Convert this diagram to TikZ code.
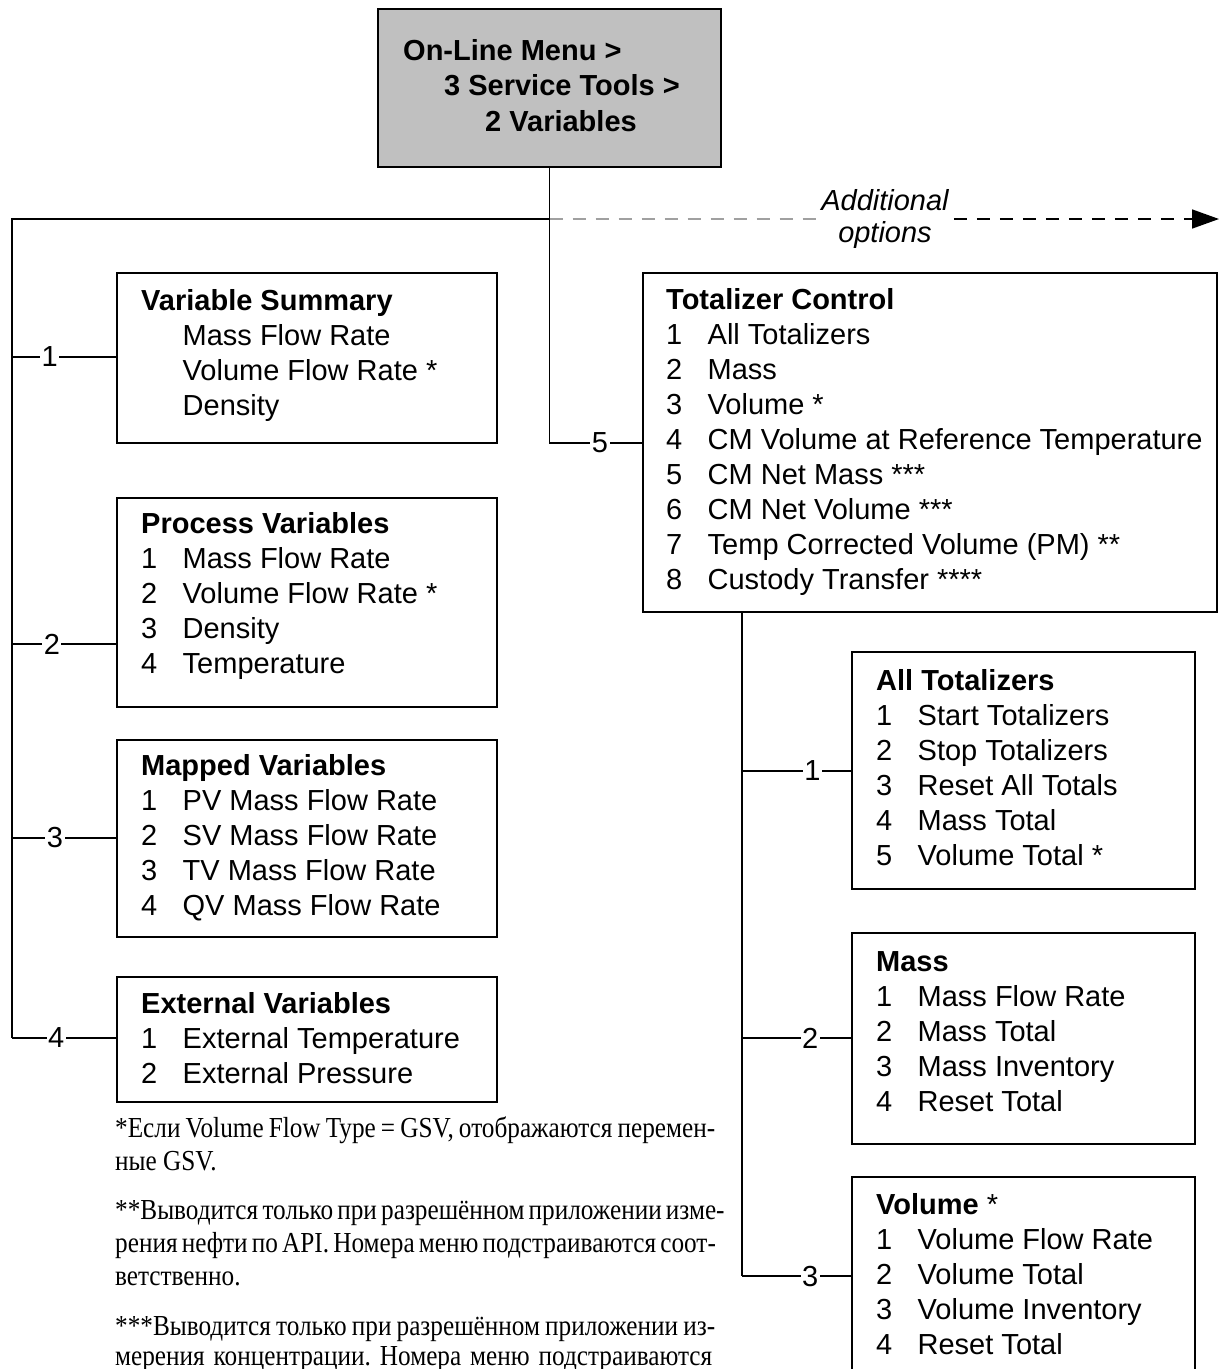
\documentclass[tikz,border=0pt]{standalone}
\usepackage{fontspec}
\setmainfont{Liberation Sans}
\newfontfamily\serifft[FakeStretch=0.87]{Liberation Serif}
\usetikzlibrary{arrows.meta}
\definecolor{boxgray}{RGB}{192,192,192}
\definecolor{dashgray}{RGB}{160,160,160}
\newcommand\mitem[2]{\makebox[41.5pt][l]{#1}#2}
\newcommand\fnline[1]{\hbox to 600pt{#1}}
\frenchspacing
\begin{document}
\begin{tikzpicture}[x=1pt,y=-1pt,
  box/.style={draw, line width=1.6pt, anchor=north west, inner sep=0pt, outer sep=0pt},
  txt/.style={anchor=base west, inner sep=0pt, font=\fontsize{29}{35}\selectfont},
  lbl/.style={fill=white, inner sep=1.5pt, font=\fontsize{29}{35}\selectfont},
  wire/.style={line width=1.6pt},
  fn/.style={anchor=base west, inner sep=0pt, font=\serifft\fontsize{29}{33}\selectfont}
]
\useasboundingbox (0,0) rectangle (1219,1369);
\clip (0,0) rectangle (1219,1369);

% top box
\node[box, fill=boxgray, minimum width=343pt, minimum height=158pt] (top) at (378,9) {};
\node[txt, font=\bfseries\fontsize{29}{35.5}\selectfont] (toptxt) at (403,60)
  {\begin{tabular}[t]{@{}l@{}}On-Line Menu >\\\hspace{41pt}3 Service Tools >\\\hspace{82pt}2 Variables\end{tabular}};

% left boxes
\node[box, minimum width=380pt, minimum height=170pt] (b1) at (117,273) {};
\node[txt] (b1t) at (141,310) {\begin{tabular}[t]{@{}l@{}}\textbf{Variable Summary}\\
 \mitem{}{Mass Flow Rate}\\ \mitem{}{Volume Flow Rate *}\\ \mitem{}{Density}\end{tabular}};

\node[box, minimum width=380pt, minimum height=209pt] (b2) at (117,498) {};
\node[txt] (b2t) at (141,533) {\begin{tabular}[t]{@{}l@{}}\textbf{Process Variables}\\
 \mitem{1}{Mass Flow Rate}\\ \mitem{2}{Volume Flow Rate *}\\ \mitem{3}{Density}\\ \mitem{4}{Temperature}\end{tabular}};

\node[box, minimum width=380pt, minimum height=197pt] (b3) at (117,740) {};
\node[txt] (b3t) at (141,775) {\begin{tabular}[t]{@{}l@{}}\textbf{Mapped Variables}\\
 \mitem{1}{PV Mass Flow Rate}\\ \mitem{2}{SV Mass Flow Rate}\\ \mitem{3}{TV Mass Flow Rate}\\ \mitem{4}{QV Mass Flow Rate}\end{tabular}};

\node[box, minimum width=380pt, minimum height=125pt] (b4) at (117,977) {};
\node[txt] (b4t) at (141,1013) {\begin{tabular}[t]{@{}l@{}}\textbf{External Variables}\\
 \mitem{1}{External Temperature}\\ \mitem{2}{External Pressure}\end{tabular}};

% totalizer control
\node[box, minimum width=574pt, minimum height=339pt] (tc) at (643,273) {};
\node[txt] (tct) at (666,309) {\begin{tabular}[t]{@{}l@{}}\textbf{Totalizer Control}\\
 \mitem{1}{All Totalizers}\\ \mitem{2}{Mass}\\ \mitem{3}{Volume *}\\
 \mitem{4}{CM Volume at Reference Temperature}\\ \mitem{5}{CM Net Mass ***}\\
 \mitem{6}{CM Net Volume ***}\\ \mitem{7}{Temp Corrected Volume (PM) **}\\
 \mitem{8}{Custody Transfer ****}\end{tabular}};

% right sub boxes
\node[box, minimum width=343pt, minimum height=237pt] (at) at (852,652) {};
\node[txt] (att) at (876,690) {\begin{tabular}[t]{@{}l@{}}\textbf{All Totalizers}\\
 \mitem{1}{Start Totalizers}\\ \mitem{2}{Stop Totalizers}\\ \mitem{3}{Reset All Totals}\\
 \mitem{4}{Mass Total}\\ \mitem{5}{Volume Total *}\end{tabular}};

\node[box, minimum width=343pt, minimum height=211pt] (ms) at (852,933) {};
\node[txt] (mst) at (876,971) {\begin{tabular}[t]{@{}l@{}}\textbf{Mass}\\
 \mitem{1}{Mass Flow Rate}\\ \mitem{2}{Mass Total}\\ \mitem{3}{Mass Inventory}\\ \mitem{4}{Reset Total}\end{tabular}};

\node[box, minimum width=343pt, minimum height=240pt] (vol) at (852,1177) {};
\node[txt] (volt) at (876,1214) {\begin{tabular}[t]{@{}l@{}}\textbf{Volume} *\\
 \mitem{1}{Volume Flow Rate}\\ \mitem{2}{Volume Total}\\ \mitem{3}{Volume Inventory}\\ \mitem{4}{Reset Total}\end{tabular}};

% additional options
\node[anchor=base, inner sep=5pt, font=\itshape\fontsize{29}{32}\selectfont] (add) at (885,210)
  {\begin{tabular}[t]{@{}c@{}}Additional\\options\end{tabular}};

% coordinates
\coordinate (j0) at (549.5,219);
\coordinate (jL) at (12,219);
\coordinate (c5) at (549.5,443);
\coordinate (l1) at (12,357);
\coordinate (l2) at (12,644);
\coordinate (l3) at (12,838);
\coordinate (l4) at (12,1038);
\coordinate (r0) at (742,612);
\coordinate (r1) at (742,771);
\coordinate (r2) at (742,1038);
\coordinate (r3) at (742,1276);
\coordinate (aend) at (1219,219);

% connectors
\draw[wire] (top.south) -- (c5) -- node[lbl,pos=0.54]{5} (c5 -| tc.west);
\draw[wire] (j0) -- (jL) -- (l4);
\draw[wire] (l1) -- node[lbl,pos=0.36]{1} (l1 -| b1.west);
\draw[wire] (l2) -- node[lbl,pos=0.38]{2} (l2 -| b2.west);
\draw[wire] (l3) -- node[lbl,pos=0.41]{3} (l3 -| b3.west);
\draw[wire] (l4) -- node[lbl,pos=0.42]{4} (l4 -| b4.west);
\draw[wire] (r0) -- (r3);
\draw[wire] (r1) -- node[lbl,pos=0.64]{1} (r1 -| at.west);
\draw[wire] (r2) -- node[lbl,pos=0.62]{2} (r2 -| ms.west);
\draw[wire] (r3) -- node[lbl,pos=0.62]{3} (r3 -| vol.west);
\draw[wire, dashgray, dash pattern=on 13pt off 10pt] (j0) -- (j0 -| add.west);
\draw[wire, dash pattern=on 13pt off 10pt, -{Triangle[length=27pt,width=19pt]}] (j0 -| add.east) -- (aend);

% footnotes
\node[fn] (f1) at (115,1137) {\fnline{*Если Volume Flow Type = GSV, отображаются перемен-}};
\node[fn] (f2) at (115,1170) {ные GSV.};
\node[fn] (f3) at (115,1219) {\fnline{**Выводится только при разрешённом приложении изме-}};
\node[fn] (f4) at (115,1252) {\fnline{рения нефти по API. Номера меню подстраиваются соот-}};
\node[fn] (f5) at (115,1285) {ветственно.};
\node[fn] (f6) at (115,1335) {\fnline{***Выводится только при разрешённом приложении из-}};
\node[fn] (f7) at (115,1365) {\hbox to 597pt{мерения концентрации. Номера меню подстраиваются}};
\end{tikzpicture}
\end{document}
